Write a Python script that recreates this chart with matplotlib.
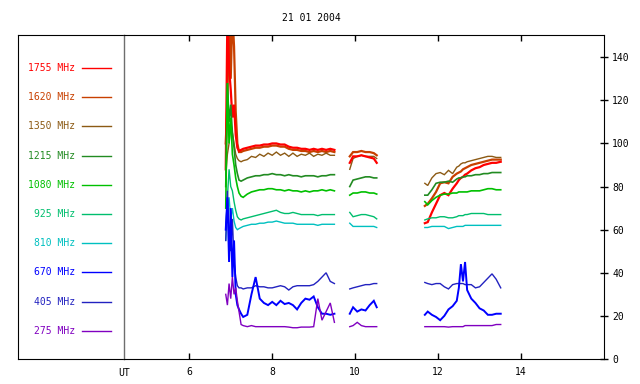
import matplotlib
matplotlib.use("Agg")
import matplotlib.pyplot as plt

plt.rcParams["font.family"] = "DejaVu Sans Mono"
plt.rcParams["font.size"] = 7

title = "21 01 2004"
freqs = ["1755 MHz", "1620 MHz", "1350 MHz", "1215 MHz", "1080 MHz",
         "925 MHz", "810 MHz", "670 MHz", "405 MHz", "275 MHz"]
colors = ["#ff0000", "#c84000", "#8c5a14", "#228b22", "#00c000",
          "#00be6e", "#00c0c0", "#0000ff", "#2222c0", "#8000c0"]
widths = [1.6, 1.6, 1.0, 1.2, 1.2, 1.0, 1.0, 1.4, 1.0, 1.0]
draw_order = [1, 2, 0, 3, 4, 5, 6, 8, 7, 9]

x_ticks = [6, 8, 10, 12, 14]
y_ticks = [0, 20, 40, 60, 80, 100, 120, 140]

# UT hours of the three observation windows
t1 = [6.88, 6.92, 6.96, 7.00, 7.04, 7.08, 7.12, 7.16, 7.20, 7.25, 7.30,
      7.40, 7.50, 7.60, 7.70, 7.80, 7.90, 8.00, 8.10, 8.20, 8.30, 8.40,
      8.50, 8.60, 8.70, 8.80, 8.90, 9.00, 9.10, 9.20, 9.30, 9.40, 9.50]
t2 = [9.87, 9.95, 10.05, 10.15, 10.25, 10.35, 10.45, 10.52]
t3 = [11.68, 11.75, 11.85, 11.95, 12.05, 12.15, 12.25, 12.35, 12.45, 12.50,
      12.55, 12.60, 12.65, 12.70, 12.80, 12.90, 13.00, 13.10, 13.20, 13.30,
      13.40, 13.51]

# flux per frequency, window 1
s1755_1 = [88, 160, 135, 125, 112, 118, 104, 98, 96.5, 97, 97.5, 98, 98.5,
           99, 99, 99.5, 99.5, 100, 100, 99.5, 99.5, 98.5, 98, 98, 97.5,
           97.5, 97, 97.5, 97, 97.5, 97, 97.5, 97]
s1620_1 = [100, 120, 160, 130, 160, 145, 115, 100, 96, 96, 96.5, 97, 97.5,
           98, 98, 98.5, 98.5, 99, 99, 98.5, 98.5, 97.5, 97, 97, 96.5, 96.5,
           96, 96.5, 96, 96.5, 96, 96.5, 96]
s1350_1 = [85, 95, 100, 110, 105, 100, 95, 93, 92, 91.5, 92, 92.5, 94, 93.5,
           95, 94, 95.5, 94.5, 96, 94.5, 95.5, 94, 95.5, 94, 95, 94.5, 95.5,
           94, 95, 94.5, 95.5, 94.5, 94.5]
s1215_1 = [80, 128, 110, 118, 105, 98, 90, 86, 83, 82.5, 83, 84, 84.5, 85,
           85, 85.5, 85.5, 86, 85.5, 85.5, 85, 85.5, 85, 85, 84.5, 85, 85, 85,
           84.5, 85, 85, 85.5, 85.5]
s1080_1 = [70, 128, 100, 112, 95, 90, 84, 80, 77, 75.5, 75, 76.5, 77.5, 78,
           78.5, 78.5, 79, 79, 78.5, 78.5, 78, 78.5, 78, 78, 77.5, 78, 77.5,
           78, 78, 78.5, 78, 78.5, 78]
s925_1 = [60, 75, 88, 80, 78, 73, 69, 66, 65, 64.5, 65, 65.5, 66, 66.5, 67,
          67.5, 68, 68.5, 69, 68, 67.5, 67.5, 68, 67.5, 67, 67, 67, 67, 66.5,
          67, 67, 67, 67]
s810_1 = [55, 68, 75, 65, 70, 64, 61, 60, 60.5, 61, 61.5, 62, 62.5, 62.5, 63,
          63, 63.5, 63.5, 64, 63.5, 63, 63, 63, 62.5, 62.5, 62.5, 62.5, 62.5,
          62, 62.5, 62.5, 62.5, 62.5]
s670_1 = [60, 75, 45, 70, 38, 55, 30, 25, 23, 21, 19.5, 20.5, 30, 38, 28, 26,
          25, 26.5, 25, 27, 25.5, 26, 25, 23, 26, 28, 27.5, 29, 24, 21, 21,
          20.5, 21]
s405_1 = [55, 78, 60, 50, 65, 45, 38, 34, 33, 33, 32.5, 33, 33, 34, 33.5,
          33.5, 33, 33, 33.5, 34, 33.5, 32, 33.5, 34, 34, 34, 34, 34.5, 36,
          38, 40, 36, 35]
s275_1 = [30, 25, 35, 28, 38, 30, 33, 27, 22, 16, 15.5, 15, 15.5, 15, 15, 15,
          15, 15, 15, 15, 15, 14.8, 14.5, 14.5, 14.8, 14.8, 14.8, 15, 28, 18,
          22, 26, 17]

# window 2
s1755_2 = [91, 94, 94, 94.5, 94, 93.5, 93, 91]
s1620_2 = [94, 96, 96, 96.5, 96, 96, 95.5, 94.5]
s1350_2 = [88, 93, 94, 94.5, 94, 94, 94, 93]
s1215_2 = [80, 83, 83.5, 84, 84.5, 84.5, 84, 84]
s1080_2 = [76, 77, 77, 77.5, 77.5, 77, 77, 76.5]
s925_2 = [68, 66, 66.5, 67, 67, 66.5, 66, 65]
s810_2 = [63, 61.5, 61.5, 61.5, 61.5, 61.5, 61.5, 61]
s670_2 = [21, 24, 22, 23, 22.5, 25, 27, 24]
s405_2 = [32.5, 33, 33.5, 34, 34.5, 34.5, 35, 35]
s275_2 = [15, 15.5, 17, 15.5, 15, 15, 15, 15]

# window 3
s1755_3 = [63, 63.5, 68, 72, 76, 77, 76, 79, 81.5, 83, 84, 84.5, 85.5, 86,
           87.5, 88.5, 89, 90, 90.5, 91, 91, 91.5]
s1620_3 = [71, 72, 74.5, 77.5, 81.5, 82, 81.5, 84.5, 86, 86.5, 87, 88, 88.5,
           89, 90, 90.5, 91, 91.5, 92, 92.5, 92.5, 92.5]
s1350_3 = [81.5, 80.5, 84, 86, 86.5, 85.5, 87.5, 86, 89, 89.5, 90.5, 91, 91,
           91.5, 92, 92.5, 93, 93.5, 94, 94, 93.5, 93.5]
s1215_3 = [76, 76, 78.5, 81.5, 82, 82, 82.5, 82, 83.5, 84, 84, 84.5, 84.5,
           85, 85, 85.5, 85.5, 86, 86, 86.5, 86.5, 86.5]
s1080_3 = [73, 71.5, 73.5, 75, 76, 76.5, 76.5, 77, 77, 77.5, 77.5, 77.5,
           77.5, 77.5, 78, 78, 78, 78.5, 79, 79, 78.5, 78.5]
s925_3 = [64.5, 65, 65.5, 65.5, 66, 66, 65.5, 65.5, 66, 66.5, 66.5, 66.5, 67,
          67, 67.5, 67.5, 67.5, 67.5, 67, 67, 67, 67]
s810_3 = [61, 61, 61.5, 61.5, 61.5, 61.5, 60.5, 61, 61.5, 61.5, 61.5, 61.5,
          62, 62, 62, 62, 62, 62, 62, 62, 62, 62]
s670_3 = [20.5, 22, 20.5, 19.5, 18, 20, 23, 24.5, 27, 33, 44, 36, 45, 32, 28,
          26, 23.5, 22.5, 20.5, 20.5, 21, 21]
s405_3 = [35.5, 35, 34.5, 35, 35, 33.5, 32.5, 34.5, 35, 35, 35, 35, 34.5,
          34.5, 34.5, 33, 33.5, 35.5, 37.5, 39.5, 37, 33]
s275_3 = [15, 15, 15, 15, 15, 15, 14.8, 15, 15, 15, 15, 15, 15.5, 15.5, 15.5,
          15.5, 15.5, 15.5, 15.5, 15.5, 16, 16]

series = [
    (s1755_1, s1755_2, s1755_3), (s1620_1, s1620_2, s1620_3),
    (s1350_1, s1350_2, s1350_3), (s1215_1, s1215_2, s1215_3),
    (s1080_1, s1080_2, s1080_3), (s925_1, s925_2, s925_3),
    (s810_1, s810_2, s810_3), (s670_1, s670_2, s670_3),
    (s405_1, s405_2, s405_3), (s275_1, s275_2, s275_3),
]

fig = plt.figure(figsize=(6.4, 3.84), dpi=100)

# left legend panel
leg = fig.add_axes([18 / 640, 25 / 384, 106.3 / 640, 324 / 384])
leg.set_xlim(0, 1)
leg.set_ylim(0, 1)
leg.set_xticks([])
leg.set_yticks([])
leg.spines["right"].set_visible(False)
for i, (name, c) in enumerate(zip(freqs, colors)):
    yy = 0.898 - i * 0.0901
    leg.text(0.536, yy, name, color=c, ha="right", va="center", fontsize=7)
    leg.plot([0.602, 0.872], [yy, yy], color=c, lw=1.0)

# data panel
ax = fig.add_axes([124.3 / 640, 25 / 384, 479.7 / 640, 324 / 384])
ax.set_facecolor("none")
ax.set_xlim(4.434, 16.0)
ax.set_ylim(0, 150.3)
for i in draw_order:
    for t, v in zip((t1, t2, t3), series[i]):
        ax.plot(t, v, color=colors[i], lw=widths[i], solid_joinstyle="miter")

ax.spines["left"].set_color("#6e6e6e")
ax.spines["left"].set_linewidth(1.0)
ax.set_xticks(x_ticks)
ax.set_xticklabels([str(v) for v in x_ticks])
ax.tick_params(axis="x", direction="in", length=4, width=1, top=True,
               bottom=True, pad=6, labelsize=7)
ax.yaxis.tick_right()
ax.set_yticks(y_ticks)
ax.tick_params(axis="y", direction="inout", length=6, width=1,
               left=False, right=True, pad=3, labelsize=7)
ax.text(4.434, -4.0, "UT", ha="center", va="top", fontsize=7)

fig.text(311 / 640, 1 - 17.7 / 384, title, ha="center", va="center",
         fontsize=7)

fig.savefig("out.png", dpi=100)
